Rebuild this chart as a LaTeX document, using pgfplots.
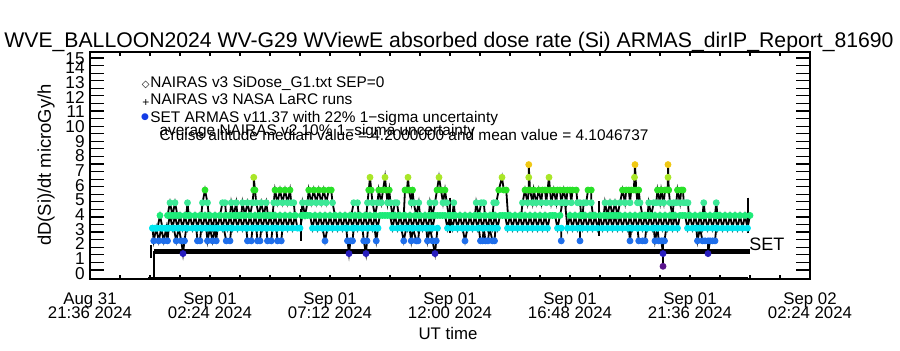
\documentclass[border=0pt]{standalone}
\usepackage{pgfplots}
\usepackage{pgfplotstable}
\pgfplotsset{compat=1.18}
\usepackage{fontspec}
\setmainfont{Liberation Sans}
\newfontfamily\symfont{DejaVu Sans}

\pgfplotsset{
  colormap={armas}{rgb255=(90,20,140) rgb255=(40,30,190) rgb255=(30,110,235)
    rgb255=(0,230,240) rgb255=(30,235,120) rgb255=(60,232,150)
    rgb255=(40,225,40) rgb255=(170,230,40) rgb255=(240,200,20)}
}

% ARMAS base series (hours after Aug 31 21:36 UT, dose rate microGy/h)
\pgfplotstableread[row sep=\\]{
x y\\
2.5 3.36\\ 2.6 3.36\\ 2.7 3.36\\ 2.8 4.2\\ 2.9 3.36\\
3.0 3.36\\ 3.1 3.36\\ 3.2 4.2\\ 3.3 3.36\\ 3.4 4.2\\ 3.5 3.36\\ 3.6 4.2\\ 3.7 3.36\\ 3.8 4.2\\ 3.9 3.36\\
4.0 4.2\\ 4.1 3.36\\ 4.2 4.2\\ 4.3 3.36\\ 4.4 4.2\\ 4.5 3.36\\ 4.6 4.2\\ 4.7 3.36\\ 4.8 4.2\\ 4.9 3.36\\
5.0 4.2\\ 5.1 3.36\\ 5.2 4.2\\ 5.3 3.36\\ 5.4 4.2\\ 5.5 3.36\\ 5.6 4.2\\ 5.7 3.36\\ 5.8 4.2\\ 5.9 3.36\\
6.0 4.2\\ 6.1 3.36\\ 6.2 4.2\\ 6.3 3.36\\ 6.4 4.2\\ 6.5 3.36\\ 6.6 4.2\\ 6.7 3.36\\ 6.8 4.2\\ 6.9 3.36\\
7.0 4.2\\ 7.1 3.36\\ 7.2 4.2\\ 7.3 3.36\\ 7.4 4.2\\ 7.5 3.36\\ 7.6 4.2\\ 7.7 3.36\\ 7.8 4.2\\ 7.9 3.36\\
8.0 4.2\\ 8.1 3.36\\ 8.2 4.2\\ 8.3 3.36\\ 8.4 3.36\\ 8.5 4.2\\ 8.6 4.2\\ 8.7 4.2\\ 8.8 4.2\\ 8.9 3.36\\
9.0 4.2\\ 9.1 3.36\\ 9.2 4.2\\ 9.3 3.36\\ 9.4 4.2\\ 9.5 3.36\\ 9.6 4.2\\ 9.7 3.36\\ 9.8 4.2\\ 9.9 3.36\\
10.0 4.2\\ 10.1 3.36\\ 10.2 4.2\\ 10.3 3.36\\ 10.4 4.2\\ 10.5 3.36\\ 10.6 4.2\\ 10.7 3.36\\ 10.8 4.2\\ 10.9 3.36\\
11.0 4.2\\ 11.1 3.36\\ 11.2 4.2\\ 11.3 3.36\\ 11.4 4.2\\ 11.5 3.36\\ 11.6 4.2\\ 11.7 4.2\\ 11.8 4.2\\ 11.9 4.2\\
12.0 4.2\\ 12.1 3.36\\ 12.2 4.2\\ 12.3 3.36\\ 12.4 4.2\\ 12.5 3.36\\ 12.6 4.2\\ 12.7 3.36\\ 12.8 4.2\\ 12.9 3.36\\
13.0 4.2\\ 13.1 3.36\\ 13.2 4.2\\ 13.3 3.36\\ 13.4 4.2\\ 13.5 3.36\\ 13.6 4.2\\ 13.7 3.36\\ 13.8 4.2\\ 13.9 4.2\\
14.0 4.2\\ 14.1 4.2\\ 14.2 4.2\\ 14.3 3.36\\ 14.4 4.2\\ 14.5 3.36\\ 14.6 4.2\\ 14.7 3.36\\ 14.8 4.2\\ 14.9 3.36\\
15.0 4.2\\ 15.1 3.36\\ 15.2 4.2\\ 15.3 3.36\\ 15.4 4.2\\ 15.5 3.36\\ 15.6 4.2\\ 15.7 3.36\\ 15.8 4.2\\ 15.9 3.36\\
16.0 4.2\\ 16.1 3.36\\ 16.2 4.2\\ 16.3 3.36\\ 16.4 4.2\\ 16.5 4.2\\ 16.6 4.2\\ 16.7 3.36\\ 16.8 4.2\\ 16.9 3.36\\
17.0 4.2\\ 17.1 3.36\\ 17.2 4.2\\ 17.3 3.36\\ 17.4 4.2\\ 17.5 3.36\\ 17.6 4.2\\ 17.7 3.36\\ 17.8 4.2\\ 17.9 3.36\\
18.0 4.2\\ 18.1 3.36\\ 18.2 4.2\\ 18.3 3.36\\ 18.4 4.2\\ 18.5 4.2\\ 18.6 4.2\\ 18.7 3.36\\ 18.8 4.2\\ 18.9 5.04\\
19.0 5.04\\ 19.1 3.36\\ 19.2 4.2\\ 19.3 3.36\\ 19.4 4.2\\ 19.5 3.36\\ 19.6 4.2\\ 19.7 3.36\\ 19.8 4.2\\ 19.9 3.36\\
20.0 4.2\\ 20.1 3.36\\ 20.2 4.2\\ 20.3 3.36\\ 20.4 4.2\\ 20.5 3.36\\ 20.6 4.2\\ 20.7 3.36\\ 20.8 4.2\\ 20.9 3.36\\
21.0 4.2\\ 21.1 3.36\\ 21.2 4.2\\ 21.3 3.36\\ 21.4 4.2\\ 21.5 3.36\\ 21.6 4.2\\ 21.7 3.36\\ 21.8 4.2\\ 21.9 3.36\\
22.0 4.2\\ 22.1 3.36\\ 22.2 4.2\\ 22.3 3.36\\ 22.4 4.2\\ 22.5 3.36\\ 22.6 4.2\\ 22.7 3.36\\ 22.8 4.2\\ 22.9 3.36\\
23.0 4.2\\ 23.1 3.36\\ 23.2 4.2\\ 23.3 3.36\\ 23.4 4.2\\ 23.5 3.36\\ 23.6 4.2\\ 23.7 4.2\\ 23.8 4.2\\ 23.9 3.36\\
24.0 4.2\\ 24.1 3.36\\ 24.2 4.2\\ 24.3 3.36\\ 24.4 4.2\\ 24.5 3.36\\ 24.6 4.2\\ 24.7 3.36\\ 24.8 4.2\\ 24.9 3.36\\
25.0 4.2\\ 25.1 3.36\\ 25.2 4.2\\ 25.3 3.36\\ 25.4 4.2\\ 25.5 3.36\\ 25.6 4.2\\ 25.7 3.36\\ 25.8 4.2\\ 25.9 3.36\\
26.0 4.2\\ 26.1 3.36\\ 26.2 4.2\\ 26.3 3.36\\ 26.4 4.2\\
}\basedata

% ARMAS excursions away from the 3.36/4.2 levels
\pgfplotstableread[row sep=\\]{
x y\\
2.5 3.36\\ 2.55 2.52\\ 2.65 3.36\\ 2.75 2.52\\ 2.85 3.36\\ 2.95 2.52\\ 3.05 3.36\\ 3.1 2.52\\ 3.15 3.36\\ nan nan\\
3.1 4.2\\ 3.2 5.04\\ 3.3 4.2\\ 3.4 5.04\\ 3.5 4.2\\ nan nan\\
3.35 3.36\\ 3.45 2.52\\ 3.55 3.36\\ 3.65 2.52\\ 3.72 1.68\\ 3.78 2.52\\ 3.85 3.36\\ nan nan\\
3.85 4.2\\ 3.9 5.04\\ 3.95 4.2\\ nan nan\\
4.25 3.36\\ 4.3 2.52\\ 4.4 2.52\\ 4.45 3.36\\ nan nan\\
4.45 4.2\\ 4.5 5.04\\ 4.6 5.88\\ 4.7 5.04\\ 4.75 4.2\\ nan nan\\
4.65 3.36\\ 4.7 2.52\\ 4.8 3.36\\ 4.9 2.52\\ 5.0 3.36\\ 5.05 2.52\\ 5.1 3.36\\ nan nan\\
5.2 4.2\\ 5.3 5.04\\ 5.4 5.04\\ 5.45 4.2\\ nan nan\\
5.35 3.36\\ 5.45 2.52\\ 5.6 2.52\\ 5.65 3.36\\ nan nan\\
5.6 4.2\\ 5.65 5.04\\ 5.75 4.2\\ 5.85 5.04\\ 5.9 4.2\\ nan nan\\
6.05 4.2\\ 6.1 5.04\\ 6.2 4.2\\ 6.3 5.04\\ 6.4 4.2\\ 6.5 5.04\\ 6.55 5.88\\ 6.55 6.72\\ 6.6 5.88\\ 6.65 5.04\\ 6.75 4.2\\ 6.85 5.04\\ 6.95 4.2\\ 7.05 5.04\\ 7.12 4.2\\ nan nan\\
6.25 3.36\\ 6.3 2.52\\ 6.45 2.52\\ 6.5 3.36\\ nan nan\\
6.65 3.36\\ 6.7 2.52\\ 6.8 2.52\\ 6.85 3.36\\ nan nan\\
7.05 3.36\\ 7.1 2.52\\ 7.25 2.52\\ 7.3 3.36\\ nan nan\\
7.3 4.2\\ 7.35 5.04\\ 7.4 5.88\\ 7.5 5.04\\ 7.6 5.88\\ 7.7 5.04\\ 7.8 5.88\\ 7.9 5.04\\ 8.0 5.88\\ 8.05 5.04\\ 8.15 5.04\\ 8.2 4.2\\ nan nan\\
7.45 3.36\\ 7.5 2.52\\ 7.65 2.52\\ 7.7 3.36\\ nan nan\\
8.45 4.2\\ 8.5 5.04\\ 8.6 4.2\\ 8.7 5.04\\ 8.75 5.88\\ 8.85 5.04\\ 8.95 5.88\\ 9.05 5.04\\ 9.15 5.88\\ 9.25 5.04\\ 9.35 5.88\\ 9.45 5.04\\ 9.55 5.88\\ 9.65 5.88\\ 9.7 5.04\\ 9.8 4.2\\ nan nan\\
9.3 3.36\\ 9.4 2.52\\ 9.5 3.36\\ nan nan\\
10.25 3.36\\ 10.3 2.52\\ 10.36 1.68\\ 10.42 2.52\\ 10.5 2.52\\ 10.55 3.36\\ nan nan\\
10.45 4.2\\ 10.55 5.04\\ 10.7 5.04\\ 10.75 4.2\\ nan nan\\
10.9 3.36\\ 10.95 2.52\\ 11.04 1.68\\ 11.08 2.52\\ 11.12 3.36\\ nan nan\\
11.05 4.2\\ 11.1 5.04\\ 11.15 5.88\\ 11.2 6.72\\ 11.25 5.88\\ 11.3 5.04\\ 11.4 4.2\\ 11.5 5.04\\ 11.55 5.88\\ 11.65 5.04\\ 11.72 5.88\\ 11.8 6.72\\ 11.85 5.88\\ 11.9 5.04\\ 11.97 5.88\\ 12.02 5.04\\ 12.1 4.2\\ 12.2 5.04\\ 12.28 5.04\\ 12.35 4.2\\ nan nan\\
11.38 3.36\\ 11.45 2.52\\ 11.52 3.36\\ nan nan\\
12.45 3.36\\ 12.55 2.52\\ 12.65 3.36\\ nan nan\\
12.55 4.2\\ 12.6 5.88\\ 12.68 5.88\\ 12.72 6.72\\ 12.76 5.88\\ 12.85 5.04\\ 12.9 5.88\\ 12.95 5.04\\ 13.05 4.2\\ 13.15 5.04\\ 13.2 4.2\\ nan nan\\
12.78 3.36\\ 12.85 2.52\\ 12.92 3.36\\ 13.05 2.52\\ 13.12 2.52\\ 13.18 3.36\\ nan nan\\
13.45 3.36\\ 13.5 2.52\\ 13.6 3.36\\ 13.7 2.52\\ 13.8 1.68\\ 13.85 2.52\\ 13.9 3.36\\ nan nan\\
13.55 4.2\\ 13.6 5.04\\ 13.7 4.2\\ 13.8 5.04\\ 13.88 5.88\\ 13.96 6.72\\ 14.04 5.88\\ 14.12 5.04\\ 14.2 5.88\\ 14.27 5.04\\ 14.35 4.2\\ nan nan\\
14.5 4.2\\ 14.55 5.04\\ 14.6 4.2\\ nan nan\\
14.9 3.36\\ 15.0 2.52\\ 15.1 3.36\\ nan nan\\
15.4 4.2\\ 15.45 5.04\\ 15.55 4.2\\ 15.65 5.04\\ 15.75 5.04\\ 15.8 4.2\\ nan nan\\
15.55 3.36\\ 15.62 2.52\\ 15.7 2.52\\ 15.75 3.36\\ 15.82 2.52\\ 15.92 2.52\\ 15.98 3.36\\ 16.1 2.52\\ 16.18 2.52\\ 16.22 3.36\\ nan nan\\
16.1 4.2\\ 16.15 5.04\\ 16.25 5.04\\ 16.35 5.88\\ 16.48 6.72\\ 16.55 5.88\\ 16.65 5.88\\ 16.72 4.2\\ nan nan\\
17.25 4.2\\ 17.3 5.04\\ 17.4 5.88\\ 17.5 5.04\\ 17.55 5.88\\ 17.55 6.72\\ 17.55 7.56\\ 17.6 5.88\\ 17.7 5.04\\ 17.75 5.88\\ 17.85 5.04\\ 17.95 5.88\\ 18.05 5.04\\ 18.1 5.88\\ 18.2 5.88\\ 18.25 5.04\\ 18.3 5.88\\ 18.36 6.72\\ 18.4 5.88\\ 18.45 5.04\\ 18.55 5.88\\ 18.65 5.04\\ 18.7 5.88\\ 18.8 5.88\\ 18.85 5.04\\ 18.95 5.88\\ 19.05 5.04\\ 19.1 5.88\\ 19.2 5.88\\ 19.25 5.04\\ 19.3 5.88\\ 19.45 5.88\\ 19.5 5.04\\ 19.6 5.04\\ 19.65 4.2\\ nan nan\\
18.85 3.36\\ 18.85 2.52\\ nan nan\\ 19.6 3.36\\ 19.6 2.52\\ nan nan\\
19.7 4.2\\ 19.75 5.04\\ 19.85 5.04\\ 19.92 5.88\\ 20.05 5.88\\ 20.05 5.04\\ 20.12 4.2\\ nan nan\\
20.55 4.2\\ 20.6 5.04\\ 20.7 4.2\\ 20.8 5.04\\ 20.9 4.2\\ 21.0 5.04\\ 21.1 4.2\\ 21.2 5.04\\ 21.3 5.88\\ 21.4 5.04\\ 21.45 5.88\\ 21.55 5.88\\ 21.6 5.04\\ 21.65 5.88\\ 21.75 5.88\\ 21.78 6.72\\ 21.8 7.56\\ 21.85 5.88\\ 21.9 5.04\\ 21.95 5.88\\ 22.0 5.04\\ 22.1 4.2\\ nan nan\\
21.55 3.36\\ 21.6 2.52\\ 21.65 3.36\\ nan nan\\ 21.9 3.36\\ 21.95 2.52\\ 22.1 2.52\\ 22.2 2.52\\ 22.25 3.36\\ nan nan\\
22.3 4.2\\ 22.35 5.04\\ 22.45 4.2\\ 22.55 5.04\\ 22.65 5.04\\ 22.7 5.88\\ 22.8 5.04\\ 22.85 5.88\\ 22.95 5.04\\ 23.0 5.88\\ 23.1 5.88\\ 23.12 6.72\\ 23.12 7.56\\ 23.15 5.88\\ 23.2 5.04\\ 23.3 4.2\\ 23.35 5.04\\ 23.45 5.04\\ 23.5 5.88\\ 23.6 5.04\\ 23.65 5.88\\ 23.72 5.88\\ 23.75 5.04\\ 23.85 5.04\\ 23.92 5.04\\ 23.95 4.2\\ nan nan\\
22.55 3.36\\ 22.6 2.52\\ 22.7 3.36\\ 22.75 2.52\\ 22.85 2.52\\ 22.92 1.68\\ 22.92 0.84\\ 22.92 2.52\\ 22.98 2.52\\ 23.05 3.36\\ nan nan\\
24.25 3.36\\ 24.3 2.52\\ 24.4 3.36\\ 24.5 2.52\\ 24.6 2.52\\ 24.72 2.52\\ 24.72 1.68\\ 24.8 2.52\\ 24.9 2.52\\ 25.0 2.52\\ 25.05 3.36\\ nan nan\\
24.5 4.2\\ 24.55 5.04\\ 24.6 4.2\\ nan nan\\ 25.0 4.2\\ 25.05 5.04\\ 25.1 4.2\\
}\excdata

\begin{document}
\begin{tikzpicture}
\useasboundingbox (0,0) rectangle (450pt,175pt);
\begin{axis}[
  at={(45pt,35.5pt)}, anchor=south west,
  scale only axis, width=360pt, height=113.5pt,
  xmin=0, xmax=28.8, ymin=0, ymax=15,
  clip=false,
  unbounded coords=jump,
  colormap name=armas,
  point meta min=0.84, point meta max=7.56,
  axis line style={line width=0.6pt},
  tick align=inside,
  major tick length=2pt,
  minor tick length=7pt,
  every tick/.style={black, line width=0.6pt},
  xtick={0,1.2,2.4,3.6,4.8,6,7.2,8.4,9.6,10.8,12,13.2,14.4,15.6,16.8,18,19.2,20.4,21.6,22.8,24,25.2,26.4,27.6,28.8},
  xticklabels={{Aug 31\\[-3.4pt]21:36 2024},{},{},{},{Sep 01\\[-3.4pt]02:24 2024},{},{},{},{Sep 01\\[-3.4pt]07:12 2024},{},{},{},{Sep 01\\[-3.4pt]12:00 2024},{},{},{},{Sep 01\\[-3.4pt]16:48 2024},{},{},{},{Sep 01\\[-3.4pt]21:36 2024},{},{},{},{Sep 02\\[-3.4pt]02:24 2024}},
  xticklabel style={anchor=north, inner sep=0pt, yshift=-6.5pt, align=center, font=\fontsize{8.4}{10.5}\selectfont},
  ytick={0.377,1.346,2.316,3.285,4.255,5.224,6.194,7.163,8.133,9.102,10.07,11.04,12.01,12.98,13.98,14.58},
  yticklabels={0,1,2,3,4,5,6,7,8,9,10,11,12,13,14,15},
  every major y tick/.append style={draw=none},
  minor ytick={0.6,1.1,1.6,2.1,2.6,3.1,3.6,4.1,4.6,5.1,5.6,6.1,6.6,7.1,7.6,8.1,8.6,9.1,9.6,10.1,10.6,11.1,11.6,12.1,12.6,13.1,13.6,14.1,14.6},
  yticklabel style={anchor=east, inner sep=0pt, xshift=-2.5pt, font=\fontsize{8.6}{10.5}\selectfont},
]
% NAIRAS v3 SiDose_G1 (near zero)
\addplot[black, line width=1.3pt] coordinates {(2.32,0.066) (26.32,0.066)};
% NAIRAS v3 NASA LaRC runs
\addplot[black, line width=0.6pt] coordinates {(2.56,0.066) (2.56,1.82)};
\addplot[black, line width=2.5pt] coordinates {(2.56,1.82) (26.4,1.82)};
\addplot[draw=none, mark=none, error bars/.cd, y dir=both, y explicit,
  error bar style={black, line width=0.6pt}, error mark options={black, line width=0.6pt, mark size=2.2pt}]
  coordinates {(2.44,1.82) +- (0,0.15)};
% ARMAS lines
\addplot[black, line width=0.9pt, mark=none] table[x=x, y=y] {\basedata};
\addplot[black, line width=0.9pt, mark=none] table[x=x, y=y] {\excdata};
% ARMAS dots
\addplot[scatter, only marks, mark=*, mark size=1.5pt, point meta=y,
  scatter/use mapped color={draw=mapped color, fill=mapped color}] table[x=x, y=y] {\basedata};
\addplot[scatter, only marks, mark=*, mark size=1.5pt, point meta=y,
  scatter/use mapped color={draw=mapped color, fill=mapped color}] table[x=x, y=y] {\excdata};
% 22% uncertainty bars
\addplot[draw=none, mark=none, error bars/.cd, y dir=both, y explicit,
  error bar style={black, line width=0.6pt}, error mark options={black, line width=0.6pt, mark size=2pt}]
  coordinates {(8.44,3.57) +- (0,0.79) (14.4,4.2) +- (0,0.92) (20.36,3.99) +- (0,0.88) (26.32,4.2) +- (0,0.92)};
\end{axis}
% title and labels
\node[anchor=base, inner sep=0pt, font=\fontsize{10.6}{12}\selectfont] at (224.5pt,151.5pt)
  {WVE\_BALLOON2024 WV-G29 WViewE absorbed dose rate (Si) ARMAS\_dirIP\_Report\_81690};
\node[rotate=90, inner sep=0pt, font=\fontsize{9.2}{11}\selectfont] at (23pt,92.5pt) {dD(Si)/dt microGy/h};
\node[inner sep=0pt, font=\fontsize{8.4}{10}\selectfont] at (224pt,8.5pt) {UT time};
\node[anchor=base west, inner sep=0pt, font=\fontsize{9}{11}\selectfont] at (374.5pt,50pt) {SET};
% legend
\node[inner sep=0pt, font=\symfont\fontsize{5}{6}\selectfont] at (72.9pt,132.5pt) {◇};
\node[inner sep=0pt, font=\fontsize{6}{7}\selectfont] at (72.9pt,123.5pt) {+};
\node[inner sep=0pt, text={rgb,255:red,20;green,60;blue,230}, font=\symfont\fontsize{4.5}{5}\selectfont] at (72.5pt,116.5pt) {●};
\begin{scope}[every node/.style={anchor=base west, inner sep=0pt, font=\fontsize{7.7}{9}\selectfont}]
\node at (75pt,131.5pt) {NAIRAS v3 SiDose\_G1.txt SEP=0};
\node at (75pt,123pt) {NAIRAS v3 NASA LaRC runs};
\node at (75pt,114pt) {SET ARMAS v11.37 with 22\% 1−sigma uncertainty};
\node at (79.6pt,107.5pt) {average NAIRAS v2 10\% 1−sigma uncertainty};
\node at (79.6pt,105pt) {Cruise altitude median value = 4.2000000 and mean value = 4.1046737};
\end{scope}
\end{tikzpicture}
\end{document}
